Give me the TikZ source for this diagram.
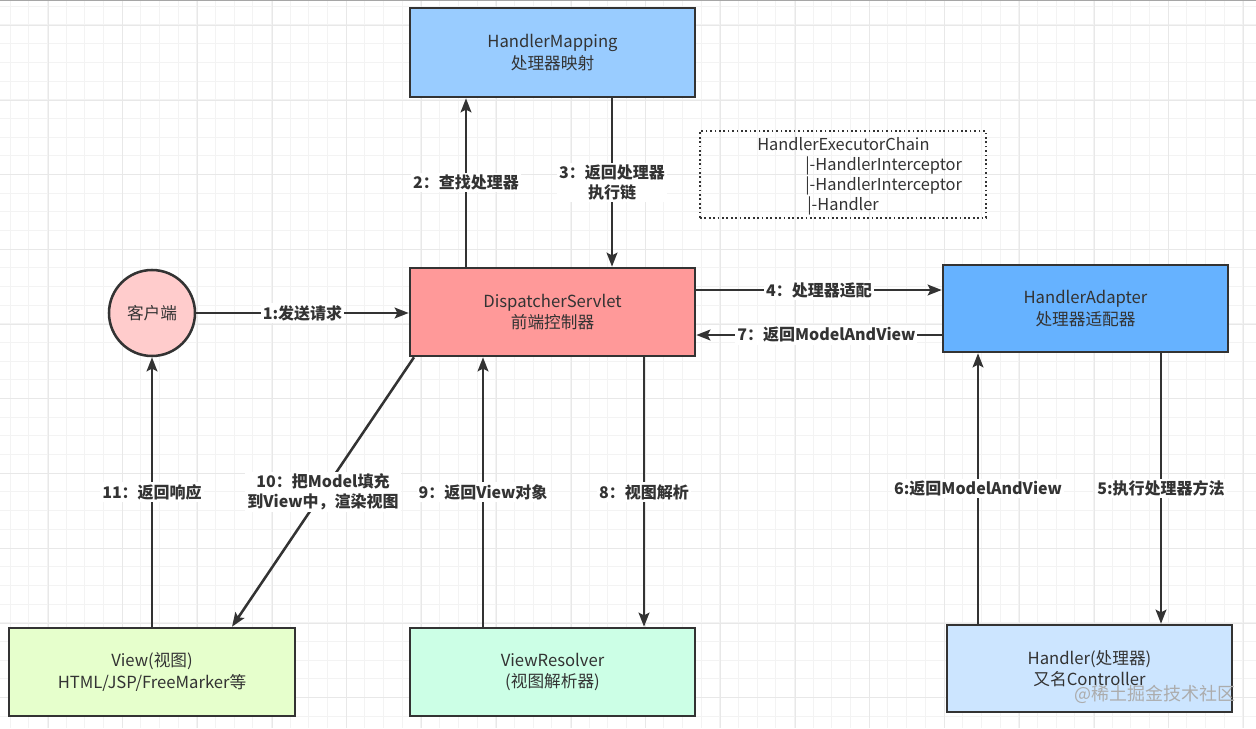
\documentclass[tikz,border=0pt]{standalone}
\usepackage{fontspec}
\setmainfont{Noto Sans CJK SC}
\usetikzlibrary{arrows.meta}
\definecolor{ink}{HTML}{333333}
\definecolor{mapfill}{HTML}{99CCFF}
\definecolor{dsfill}{HTML}{FF9999}
\definecolor{hafill}{HTML}{66B2FF}
\definecolor{viewfill}{HTML}{E6FFCC}
\definecolor{vrfill}{HTML}{CCFFE6}
\definecolor{hdfill}{HTML}{CCE5FF}
\definecolor{clfill}{HTML}{FFCCCC}
\definecolor{gridminor}{HTML}{F3F3F3}
\definecolor{gridmajor}{HTML}{E8E8E8}

\begin{document}
\begin{tikzpicture}[x=0.75pt, y=-0.75pt]
    \tikzstyle{box}=[rectangle,draw=ink,line width=1.9pt,minimum width=213.75pt,minimum height=66pt,inner sep=0pt,align=center,text=ink,font=\fontsize{12.5}{16}\selectfont]
    \tikzstyle{client}=[circle,draw=ink,line width=1.9pt,fill=clfill,minimum size=64.5pt,inner sep=0pt,text=ink,font=\fontsize{12.5}{16}\selectfont]
    \tikzstyle{chain}=[rectangle,draw=ink,line width=1.3pt,dotted,minimum width=214.5pt,minimum height=65pt,inner sep=0pt]
    \tikzstyle{flow}=[draw=ink,line width=1.9pt,-{Stealth[length=10.5pt,width=8pt,inset=2pt]}]
    \tikzstyle{lbl}=[fill=white,inner sep=1.5pt,text=ink,align=center,font=\bfseries\fontsize{12}{15}\selectfont]

    \useasboundingbox (0,0) rectangle (1256,728);
    \fill[white] (0,0) rectangle (1256,728);

    % background grid
    \foreach \gx in {0,...,66} \draw[gridminor,line width=0.75pt] ({10+18.68*\gx},0) -- ++(0,728);
    \foreach \gy in {0,...,38} \draw[gridminor,line width=0.75pt] (0,{6.3+18.68*\gy}) -- ++(1256,0);
    \foreach \gx in {0,...,16} \draw[gridmajor,line width=0.75pt] ({48+74.72*\gx},0) -- ++(0,728);
    \foreach \gy in {0,...,9} \draw[gridmajor,line width=0.75pt] (0,{25.3+74.72*\gy}) -- ++(1256,0);
    \draw[gray!70,line width=0.75pt] (0,0.5) -- (1256,0.5);

    % components
    \node[box,fill=mapfill,minimum height=66.75pt] (HM) at (552.5,52.5) {HandlerMapping\\处理器映射};
    \node[box,fill=dsfill] (DS) at (552.5,312) {DispatcherServlet\\前端控制器};
    \node[box,fill=hafill,minimum height=65.25pt] (HA) at (1085.5,308.5) {HandlerAdapter\\处理器适配器};
    \node[box,fill=viewfill,minimum width=214.5pt] (VW) at (152,672) {View(视图)\\HTML/JSP/FreeMarker等};
    \node[box,fill=vrfill] (VR) at (552.5,672) {ViewResolver\\(视图解析器)};
    \node[box,fill=hdfill,minimum height=65.25pt] (HD) at (1089.5,668.5) {Handler(处理器)\\又名Controller};
    \node[client] (CL) at (152,313) {客户端};

    \node[chain] (Chain) at (843,174.5) {};
    \node[anchor=north west,inner sep=0pt,text=ink,align=left,font=\fontsize{12.3}{15}\selectfont] (ChainTxt) at (757,137)
        {HandlerExecutorChain\\\hspace{36pt}|-HandlerInterceptor\\\hspace{36pt}|-HandlerInterceptor\\\hspace{37.5pt}|-Handler};

    % request flow
    \draw[flow] (CL) -- (DS.west |- CL) node[midway,lbl] {1:发送请求};
    \draw[flow] (466,0 |- DS.north) -- (466,0 |- HM.south) node[midway,lbl] {2：查找处理器};
    \draw[flow] (612,0 |- HM.south) -- (612,0 |- DS.north) node[midway,lbl] {3：返回处理器\\执行链};
    \draw[flow] (DS.east |- 0,290) -- (HA.west |- 0,290) node[midway,lbl] {4：处理器适配};
    \draw[flow] (1161,0 |- HA.south) -- (1161,0 |- HD.north) node[midway,lbl] {5:执行处理器方法};
    \draw[flow] (978,0 |- HD.north) -- (978,0 |- HA.south) node[midway,lbl] {6:返回ModelAndView};
    \draw[flow] (HA.west |- 0,335) -- (DS.east |- 0,335) node[pos=0.47,lbl] {7：返回ModelAndView};
    \draw[flow] (644,0 |- DS.south) -- (644,0 |- VR.north) node[midway,lbl] {8：视图解析};
    \draw[flow] (483,0 |- VR.north) -- (483,0 |- DS.south) node[midway,lbl] {9：返回View对象};
    \draw[flow] (414,0 |- DS.south) -- (232,0 |- VW.north) node[midway,lbl] {10：把Model填充\\到View中，渲染视图};
    \draw[flow] (152,0 |- VW.north) -- (CL.south) node[midway,lbl] {11：返回响应};

    \node[text=gray!65,font=\fontsize{13.5}{15}\selectfont] (Mark) at (1155,694) {@稀土掘金技术社区};
\end{tikzpicture}
\end{document}
